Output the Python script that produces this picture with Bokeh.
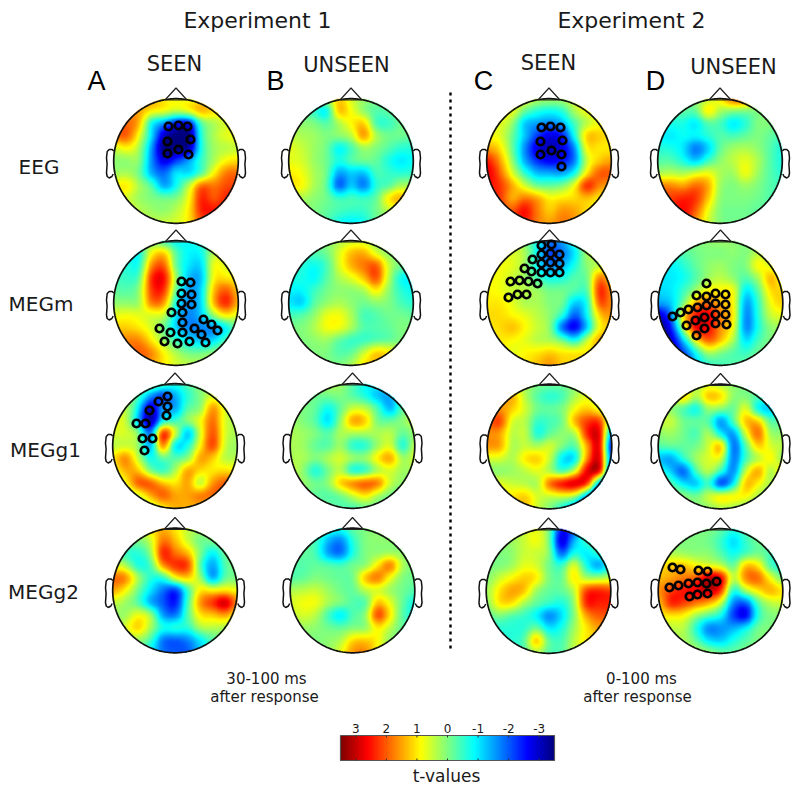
import numpy as np
from bokeh.plotting import figure
from bokeh.models import Range1d, LinearColorMapper
from bokeh.core.properties import value
from bokeh.embed import file_html
from bokeh.resources import INLINE

# t-values on an 11 x 11 grid over each head (top row first)
EEG_A = [
[1.5,1.5,1.5,1.5,1,.8,.8,1,1,1,1],
[1.6,1.6,1.5,1,.8,.5,.8,1.4,1.1,.9,.8],
[1.8,1.9,1.4,-.8,-1.6,-2.5,-2.6,-.3,.3,.6,.7],
[1.8,2.0,.8,-1,-3,-3.5,-3.5,-.6,.3,.7,.8],
[.5,.9,.3,-1.5,-3.5,-3.5,-3.2,-.7,.2,.4,.5],
[.1,.1,.1,-1.6,-2.8,-2.2,-1.5,-.5,.3,.9,1.1],
[.2,.3,-.1,-1.4,-1.9,-1.0,-1.1,-.3,.9,1.8,1.9],
[.9,1,.3,-.3,-1.5,-.8,.4,1.9,1.8,2.1,2.2],
[.8,.6,.2,0,-.1,0,.8,2.4,2.0,2.4,2.4],
[.6,.6,.4,.2,.1,.4,1.0,2.4,2.5,2.3,2],
[.4,.4,.4,.4,.5,.6,1,2,2,2,2]]
EEG_B = [
[0,0,.1,.3,1.2,.6,.2,0,-.1,0,0],
[0,-.2,-.5,-.9,1.3,.8,.1,-.3,-.2,0,0],
[.2,.1,0,-.3,.3,.9,1.2,-.4,-.5,-.1,-.1],
[.4,.3,.2,0,.1,.4,1.6,.3,-.1,-.1,-.2],
[.7,.5,.2,-.1,-.9,-.4,.2,0,-.3,-.6,-.6],
[.7,.6,.2,-.1,-.7,-.3,-.1,-.2,-.7,-1,-.8],
[1,.8,.3,-.1,-1.5,-1.2,-1.3,-.4,-.5,-.6,-.5],
[1,.9,.3,-.2,-2,-1.2,-1.8,-.6,-.3,.3,.2],
[.4,.3,.1,-.1,-.5,-.4,-.5,-.2,1.0,1.4,.5],
[.2,.1,0,-.2,-.4,-.5,-.5,-.1,.4,.6,.3],
[0,0,0,-.3,-.8,-1,-.8,-.2,0,0,0]]
EEG_C = [
[1,1,1,.8,.4,.3,.3,.6,1,1,1],
[.9,.9,.8,-.1,-.6,-.8,-.6,.3,.8,.9,.9],
[.7,.7,.2,-1.2,-1.5,-1.7,-1.4,-.4,.4,.8,.8],
[.8,.7,-.1,-1.2,-2.2,-2.8,-2.5,-.8,1.2,1.2,1],
[1.5,1.1,-.1,-1.6,-2.8,-3.1,-2.8,-1.7,.9,1,1],
[2.5,1.6,.2,-1.4,-2.3,-2.7,-2.5,-1.8,.5,1.2,1.5],
[2.8,2,.7,-.5,-1.3,-1.4,-1.5,-.8,1.0,2.0,2.0],
[2.5,2.3,1.5,.6,-.1,-.2,0,.8,2.4,1.7,1.5],
[2.2,2.3,1.4,1.8,1.5,.9,1,1.1,1.3,1,1],
[2,2.2,2,2.6,1.8,1.2,1.6,1.5,1.1,.9,.9],
[2,2,2.1,2.4,1.8,1.5,1.8,1.6,1,1,1]]
EEG_D = [
[0,0,0,.1,.4,1,2,2,.5,0,0],
[-.1,-.2,-.2,-.2,1,.3,.1,0,0,0,0],
[-.6,-.7,-.7,-1,-.3,-.4,-1,-.6,0,0,-.2],
[-.9,-1,-.8,-.9,-.6,-.3,-.4,-.2,0,-.2,-.4],
[-.6,-.7,-1,-1.8,-1.2,-.2,.2,.3,.1,-.3,-.7],
[-.3,-.3,-.7,-1.2,-.5,.1,.4,.7,.3,-.3,-.7],
[.3,.4,.3,.6,.8,.3,.2,.8,.2,-.3,-.6],
[1.7,1.7,1.5,1.9,1.5,.2,0,.2,0,-.3,-.4],
[2,2.2,2.4,2.3,1.3,.1,0,0,-.1,-.3,-.3],
[2,2.3,2.6,2.0,.8,0,-.1,-.1,-.2,-.2,-.2],
[2,2.3,2.5,1.6,.6,0,-.1,-.1,-.1,-.1,-.1]]
MEGM_A = [
[.3,.3,.3,0,-.5,-.9,-.8,-.6,0,.3,.3],
[-.5,-.5,-.8,.8,1.2,-.3,-.9,-.8,.4,.5,.5],
[-.5,-.6,-.7,1.6,2,-.2,-1,-1.1,.8,.6,.5],
[-.4,-.5,-.3,2.3,2.6,.2,-1.3,-1.3,.9,1.0,.8],
[-.2,-.3,.1,2.2,2.3,-.2,-1.5,-1.1,1.3,2.0,1.2],
[.1,.1,.2,1.8,1.6,-.8,-1.6,-1.1,1.4,2.4,1.3],
[.7,.8,.7,.6,.5,-1.1,-1.7,-1.2,.2,1,.6],
[1.2,1.2,1,.6,-.1,-1.2,-1.7,-1.7,-1.6,-.9,0],
[1.5,1.7,1.7,1,.2,-.5,-1.0,-1.3,-1.1,-.3,.3],
[1.5,1.7,2.0,1.7,.9,.3,-.1,-.1,.1,.4,.6],
[1.5,1.7,1.9,1.5,1,.6,.4,.3,.5,.5,.5]]
MEGM_B = [
[0,0,0,.1,.3,.5,.5,.2,.1,0,0],
[-.3,-.3,-.3,-.1,.6,1.3,1.4,.6,.1,0,0],
[-.5,-.6,-.8,-.4,.6,1.4,1.8,2.0,.5,-.1,-.2],
[-.7,-.7,-.9,-.3,.3,.7,1.3,2.1,.4,-.8,-.9],
[-.9,-.9,-.5,-.1,.1,.1,.3,1,.1,-.6,-.8],
[-1,-1.2,-.3,.1,.3,.1,-.1,.1,0,-.4,-.6],
[-.4,-.3,.1,.7,.8,.3,-.4,-.3,-.1,-.1,-.2],
[0,0,.3,.8,.8,.3,-.3,-.3,-.2,0,0],
[0,0,.1,.2,-.2,-.5,-.5,-.3,-.2,0,0],
[0,0,0,0,-.3,-.2,.5,1.2,1.0,.4,.3],
[0,0,0,0,0,.3,1,1.3,1,.5,.3]]
MEGM_C = [
[.5,.5,.5,0,-.8,-1.7,-1.5,-.5,.5,.5,.5],
[.6,.6,.6,.3,-.9,-2.2,-1.8,-1,.3,.5,.5],
[.8,.8,.7,.2,-.9,-1.7,-1.4,-.7,.1,.4,.7],
[.8,.8,.5,.2,-.4,-.8,-.7,-.3,-.1,1.8,1],
[.9,.8,.5,.4,.2,-.1,-.1,-.3,-.3,2.4,1.5],
[1,1,.7,.3,.3,0,-.1,-1.2,-.7,2.1,1.6],
[1.1,1.1,.9,.7,.4,.1,-.6,-2.0,-.8,1.2,1.6],
[1,1.1,1.3,.9,.5,.1,-1.9,-2.7,-1.2,.9,1.1],
[1,1,.9,.7,.4,.3,-.1,-.8,.5,1.5,1],
[1,1,.7,.9,1,1.2,1,1,1,1,1],
[1,1,1,1,1.3,1.6,1.2,1,1,1,1]]
MEGM_D = [
[0,0,0,0,.1,.2,.1,0,.2,.3,.3],
[-.5,-.5,-.3,-.1,0,0,.1,0,.4,.3,.3],
[-.9,-.9,-.6,-.2,.1,.2,0,0,.9,.6,.4],
[-1,-1,-.8,-.3,.2,.4,.1,-.3,.3,1.4,.6],
[-1.1,-1,-.5,.2,.9,.9,.8,-1.0,-.2,1.1,1.1],
[-1.5,-1.2,-.1,1.4,1.8,1.3,.9,-1.5,-.5,.8,1.2],
[-3,-1.8,1,2.5,2.8,1.7,1.0,-1.7,-.6,.5,.7],
[-3.5,-2.5,.4,2.7,2.6,1.6,.8,-1.7,-.7,.1,.2],
[-3.5,-3,-1.2,.9,2,1.3,.3,-1.1,-.4,0,0],
[-3,-3,-2.2,-.8,.3,0,-.3,-.5,-.1,0,0],
[-2,-2.5,-2.5,-1.2,-.6,-.4,-.3,-.2,0,0,0]]
G1_A = [
[0,0,0,0,-.2,-.7,-.3,.1,.1,.1,.1],
[0,.1,-.3,-1.5,-2.2,-1.4,-.6,0,.6,.2,.2],
[.3,.4,-.9,-3,-1.5,-1.5,-.3,.1,1.6,.6,.2],
[.7,.5,-1.2,-3.3,-.9,-.5,.1,.8,1.9,.6,.3],
[.6,.6,.1,-1.9,2.4,.6,-1.3,.6,2.1,.6,.3],
[.4,.5,.2,-1.5,1.8,-1,-.7,.9,2.2,.5,.2],
[1,1.7,.5,-.8,-.2,-.3,.1,1.5,1.2,.4,.4],
[.7,1.4,1.3,0,-.5,.3,1.5,1.1,1,1.1,.9],
[.5,.8,2.0,2,1.3,1.0,1.5,.4,1.6,2,2],
[.4,.3,.5,1.4,2,1.5,1.5,1.8,1.9,1.8,1.5],
[0,0,0,.3,.9,1.4,1.4,1.3,.6,.3,.2]]
G1_B = [
[.2,.2,.2,.3,.2,-.3,-.8,-.9,-.7,.2,.2],
[.2,0,-.1,-.1,0,-.3,-.7,-1.3,-1.4,-.2,0],
[.2,0,-.2,-.8,-.2,.5,.4,-.4,-1.4,-.2,.2],
[.2,0,-.3,-1.1,.1,1.5,1.2,-.1,-.2,.1,.5],
[.3,.2,0,-.3,.3,.3,.3,.3,.4,-.2,.2],
[.3,.2,-.2,-.3,.2,-.6,-.6,.2,.6,-.7,.5],
[.3,.3,0,.3,.6,.2,.2,1.0,1.5,.2,.6],
[.5,.1,-.7,-.1,.4,-.7,-.5,.3,.6,.2,.3],
[0,.2,-.1,.1,1.2,1.7,2,1.8,.5,.1,0],
[0,-.1,-.2,-.3,-.1,.5,1.0,.3,-.1,-.1,0],
[0,0,0,-.1,-.3,-.4,-.2,-.1,0,0,0]]
G1_C = [
[.5,.5,.5,.3,0,-.1,-.1,.1,.5,.5,.5],
[1.2,1.3,1.4,.4,-.3,-.6,-.4,.3,.7,.3,.3],
[1.6,1.6,1.2,.6,-.1,-.2,0,.8,1.2,.7,.1],
[1.9,2.2,.6,.4,-.5,-.4,-.1,1.4,2.2,2.2,-.2],
[1.6,1.5,.4,.5,-.7,-.2,.1,.3,2.4,2.7,-1.8],
[1.6,1.5,.3,.5,.3,.6,0,-.3,1.5,2.7,-3],
[.6,.6,.3,1.0,1.2,.5,-1,-1,1.7,2.8,-2.4],
[.1,.1,.2,.4,.7,.3,-.4,.6,2.8,2.6,-2.8],
[.7,.7,.5,.4,.3,1.9,2.6,2.9,2.2,-1.7,-3],
[.9,.9,1,1.2,.6,.5,.6,.3,-1.6,-3,-3],
[.8,.8,1,1.3,.5,0,-.8,-1.7,-3,-3,-3]]
G1_D = [
[0,0,.1,.3,.5,.3,.1,0,-.1,-.2,0],
[.2,.2,1.2,.3,1.3,1.1,.1,0,-.3,-.3,0],
[.3,.1,-.3,-.8,.2,.1,-.2,.7,-.9,-1.2,-.2],
[.4,.5,-.1,-.2,-.3,-1.6,-.3,1.3,1.2,-.3,-.1],
[.1,.2,-.1,-.4,.3,-.9,-1.6,.6,1.9,.2,.2],
[-.3,-.2,-.2,-.1,.5,1.3,-1.9,-.3,1.2,.6,.4],
[-1.3,-1.5,-.6,.2,.6,.6,-1.8,-.4,.4,.9,.1],
[-.6,-1.2,-2,-.4,.4,-.5,-1.7,.5,1.5,.3,1.2],
[0,-.3,-1,-1.3,-.5,-2.2,-1.0,1.3,.9,.3,.5],
[0,0,.1,-.1,.5,.9,.9,.9,.3,0,0],
[0,0,0,0,.1,.3,.2,0,0,0,0]]
G2_A = [
[.5,.5,.5,1,1.4,1,.5,.3,.2,0,0],
[.5,.3,0,.5,1.8,1.3,.5,-.1,0,.1,.1],
[0,-.5,-.6,.1,2.4,1.8,1.3,0,-.9,-.1,.1],
[.7,.3,-.7,-.4,1.6,2.3,2.2,-.3,-1.5,-.3,0],
[1.9,1.7,.3,-.6,-.6,.8,1.2,.2,-1.5,-.2,-.1],
[1.5,.9,-.1,-1,-1.8,-2.3,-.5,1.0,.9,1,.8],
[.5,.2,-.3,-1.4,-2,-2.5,-.4,1.6,2.3,3,1.6],
[.2,.2,.8,.3,-1.5,-1.8,-.3,1,1.2,1.5,.8],
[.1,.6,1.2,.3,-.7,-.6,-.6,.3,.4,.3,.1],
[0,.1,.2,-.4,-1.8,-2,-1.7,-1.0,-.3,-.1,0],
[0,0,-.1,-.9,-1.8,-2.0,-2,-1.2,-.5,-.1,0]]
G2_B = [
[0,0,-.2,-.5,-.7,-.2,0,.1,.1,0,0],
[0,-.2,-.4,-1.3,-1.7,-.6,0,.1,.1,0,0],
[0,-.2,-.4,-1.5,-1.9,-.7,0,.1,.2,.1,0],
[-.3,-.3,-.2,-.3,-.4,-.1,.1,1.0,1.8,.3,0],
[-.3,-.2,0,-.1,-.2,-.1,1.3,1.8,.8,0,-.1],
[.3,.4,.5,.2,-.1,-.2,.4,.6,.2,-.1,-.3],
[.6,.8,.8,.3,0,-.3,-.3,1.3,.7,-.2,-.8],
[.4,.6,.4,-.4,-1,-.3,.1,2.2,1,-.3,-.7],
[.1,.2,.1,-.1,-.2,0,.1,1.0,.4,-.2,-.2],
[0,0,0,.1,.3,1.1,1.2,.9,.1,0,0],
[0,0,0,.1,.7,1.6,1.7,.9,.2,0,0]]
G2_C = [
[.3,.3,.3,.5,.7,0,-2.5,-2,-.3,0,0],
[.3,.2,.2,.5,.8,0,-2.9,-1.4,-.5,0,0],
[.1,0,.1,.5,.5,.1,-2,-.7,-1,-.5,-.2],
[0,0,.2,.7,.6,-.1,-.5,.7,-.7,-1.5,-.5],
[0,.5,.9,1.2,1,0,-.2,1.0,.3,.3,.5],
[.2,1.0,1.5,1.3,.2,-.2,-.2,.4,2.2,2.4,2.2],
[0,1,1.1,.3,-.2,-.5,-.7,.1,2.4,2.4,2.4],
[-.3,0,-.3,-.5,-.9,-1.7,-1.1,0,1.5,2,2],
[-.6,-.6,-.6,-.6,-.1,-1.0,-.7,.2,1,1.5,1.3],
[-.5,-.5,-.6,-.3,1.3,-.2,-.4,.4,1,1,1],
[-.5,-.5,-.5,-.4,.3,-.3,-.3,.4,.6,.6,.6]]
G2_D = [
[0,0,0,0,0,-.2,-.6,-.3,0,0,0],
[0,0,0,0,-.1,-.5,-1.1,-.5,-.1,0,0],
[.3,.3,.2,.1,.1,-.3,-.8,-.4,-.1,-.4,-.5],
[1,1.2,1.3,.9,.7,.5,-.2,1.3,1.0,-.4,-.6],
[1.3,1.5,1.8,2.0,3.1,2.8,.4,1.7,1.9,.8,-.1],
[1.6,2.2,2.5,2.7,3,2.3,-.7,.3,1.0,1.4,1],
[1.2,2.4,2.2,1.8,1.4,.5,-1.7,-2,-.3,.4,.5],
[.9,1,.9,.2,-.3,-.8,-2.2,-2.7,-.6,0,0],
[.3,.4,.4,-.6,-1.7,-1.6,-1.4,-.9,-.1,0,0],
[.1,.1,.3,-.2,-1,-1.2,-.7,-.3,0,0,0],
[0,0,.2,.4,.2,-.1,-.2,0,0,0,0]]

# significant sensors, in reference-picture pixels
S_EEG_A = [(168,126),(178,125),(187,126),(167,141),(190,139),(167,153),(178,149),(188,154)]
S_EEG_C = [(541,127),(550,126),(560,127),(540,141),(562,140),(540,154),(551,150),(561,154),(561,166)]
S_MEGM_A = [(181,281),(190,282),(181,293),(191,294),(181,303),(191,304),(171,312),(182,312),(182,322),
            (203,319),(211,324),(217,330),(159,328),(170,332),(182,332),(194,328),(201,334),(164,341),(177,343),(189,341),(205,342)]
S_MEGM_C = [(541,245),(551,244),(541,254),(550,253),(559,254),(532,259),(541,263),(550,262),(559,263),
            (524,268),(531,271),(541,272),(550,272),(559,272),(510,281),(519,280),(528,281),(537,283),(508,297),(517,294),(526,294)]
S_MEGM_D = [(706,283),(696,295),(706,296),(715,293),(725,294),(680,312),(688,309),(697,307),(706,305),(715,303),(725,304),
            (672,316),(686,325),(695,320),(704,317),(715,314),(725,314),(696,335),(704,328),(715,323),(726,324)]
S_G1_A = [(167,396),(158,401),(167,406),(149,410),(166,415),(145,423),(136,423),(142,438),(152,438),(144,450)]
S_G2_D = [(672,567),(680,569),(698,570),(707,571),(716,581),(706,583),(697,582),(688,583),(678,585),(669,587),(707,593),(697,594),(689,596)]

TICKS = [3, 2, 1, 0, -1, -2, -3]
TICK_TEXT = ["3", "2", "1", "0", "-1", "-2", "-3"]
VMAX = 3.5

def jet(t):
    r = np.clip(1.5 - np.abs(4 * t - 3), 0, 1)
    g = np.clip(1.5 - np.abs(4 * t - 2), 0, 1)
    b = np.clip(1.5 - np.abs(4 * t - 1), 0, 1)
    return r, g, b

PALETTE = []
for t in np.linspace(0, 1, 256):
    r, g, b = jet(t)
    PALETTE.append("#%02x%02x%02x" % (int(r * 255), int(g * 255), int(b * 255)))

mapper = LinearColorMapper(palette=PALETTE, low=-VMAX, high=VMAX, nan_color="rgba(0,0,0,0)")

def upsample(grid, n=260):
    """Catmull-Rom resampling of a coarse grid of readings, axis by axis."""
    a = np.asarray(grid, float)
    def along(arr):
        m = arr.shape[0]
        p = np.pad(arr, ((1, 1), (0, 0)), mode="edge")
        pos = np.linspace(0, m - 1, n)
        i = np.minimum(pos.astype(int), m - 2)
        f = (pos - i)[:, None]
        p0, p1, p2, p3 = p[i], p[i + 1], p[i + 2], p[i + 3]
        return 0.5 * (2 * p1 + (p2 - p0) * f + (2 * p0 - 5 * p1 + 4 * p2 - p3) * f ** 2 + (3 * p1 - p0 - 3 * p2 + p3) * f ** 3)
    return along(along(a).T).T

def soften(a, sigma=5.0):
    """Gentle blur of the resampled field, matching the soft look of the picture."""
    r = int(3 * sigma)
    k = np.exp(-0.5 * (np.arange(-r, r + 1) / sigma) ** 2)
    k /= k.sum()
    b = np.pad(a, r, mode="edge")
    b = np.apply_along_axis(lambda c: np.convolve(c, k, mode="same"), 0, b)
    b = np.apply_along_axis(lambda c: np.convolve(c, k, mode="same"), 1, b)
    return b[r:-r, r:-r]

W, H = 800, 792
p = figure(width=W, height=H, x_range=Range1d(0, W), y_range=Range1d(0, H),
           toolbar_location=None, output_backend="svg", tools="", min_border=0)
p.xaxis.visible = False
p.yaxis.visible = False
p.grid.visible = False
p.outline_line_color = None

def Y(v):
    return H - np.asarray(v, float)

R = 62.3
HEADS = [
    (EEG_A, 175.5, 160.5, S_EEG_A), (EEG_B, 350.5, 160.5, None), (EEG_C, 548.5, 160.5, S_EEG_C), (EEG_D, 719.5, 160.5, None),
    (MEGM_A, 175.5, 302.5, S_MEGM_A), (MEGM_B, 350.5, 302.5, None), (MEGM_C, 549, 302.5, S_MEGM_C), (MEGM_D, 720, 302.5, S_MEGM_D),
    (G1_A, 174.5, 445.5, S_G1_A), (G1_B, 352, 445.5, None), (G1_C, 549, 446, None), (G1_D, 720, 446, None),
    (G2_A, 174.5, 590, None), (G2_B, 352, 590, None), (G2_C, 548, 590.5, None), (G2_D, 720, 590.5, S_G2_D),
]
EAR_X = [0, 1.5, 4.5, 6.5, 7.2, 6.6, 7.2, 6.5, 4.5, 1.8, 0.5]
EAR_Y = [-10, -11.5, -11.5, -9.5, -3, 3, 12, 15.5, 17, 15.5, 13]

for grid, cx, cy, sensors in HEADS:
    img = soften(upsample(grid))[::-1]
    n = img.shape[0]
    u = np.linspace(-1, 1, n)
    xx, yy = np.meshgrid(u, u)
    img = np.where(xx ** 2 + yy ** 2 <= 1.02, img, np.nan)
    p.image(image=[img], x=cx - R, y=float(Y(cy + R)), dw=2 * R, dh=2 * R, color_mapper=mapper)
    # head, nose and ears
    th = np.linspace(0, 2 * np.pi, 241)
    p.line(cx + R * np.cos(th), Y(cy + R * np.sin(th)), line_color="#111111", line_width=1.7)
    p.line(cx + np.array([-11, 0, 11, -11]), Y(cy + np.array([-61, -73, -61, -61])), line_color="#222222", line_width=1.2)
    for side in (-1, 1):
        p.line(cx + side * (R + np.array(EAR_X)), Y(cy + np.array(EAR_Y)), line_color="#111111", line_width=1.5)
    if sensors:
        sx, sy = zip(*sensors)
        p.scatter(list(sx), Y(sy), marker="circle", size=7.5, fill_color=None, line_color="black", line_width=2.7)

def label(x, y, s, size, font="DejaVu Sans", color="#1a1a1a"):
    # y is the baseline in the reference; this backend places the text's middle at the given point
    p.text([x], [float(Y(y - 0.36 * size))], text=[s], text_font=value(font), text_font_size=f"{size}px",
           text_align="center", text_baseline="middle", text_color=color)

label(257, 28, "Experiment 1", 22)
label(631, 28, "Experiment 2", 22)
label(174, 71, "SEEN", 21)
label(346, 72, "UNSEEN", 21)
label(548, 70, "SEEN", 21)
label(733, 74, "UNSEEN", 21)
for x, s in [(96, "A"), (275, "B"), (483, "C"), (655, "D")]:
    label(x, 90, s, 27, font="Liberation Sans", color="black")
label(38.5, 174, "EEG", 20)
label(40.5, 311, "MEGm", 20)
label(45, 457, "MEGg1", 20)
label(43, 599, "MEGg2", 20)
label(266, 684, "30-100 ms", 15)
label(264, 702, "after response", 15)
label(641, 684, "0-100 ms", 15)
label(637, 702, "after response", 15)

# separator
p.line([450, 450], Y([92, 648]), line_color="black", line_width=2.4, line_dash="3 4")

# colour bar
BAR_L, BAR_R, BAR_T, BAR_B = 340, 554, 735, 760
ramp = np.linspace(VMAX, -VMAX, 256)[None, :]
p.image(image=[ramp], x=BAR_L, y=float(Y(BAR_B)), dw=BAR_R - BAR_L, dh=BAR_B - BAR_T, color_mapper=mapper)
p.line([BAR_L, BAR_R, BAR_R, BAR_L, BAR_L], Y([BAR_T, BAR_T, BAR_B, BAR_B, BAR_T]), line_color="#555555", line_width=1.2)
bar_x = lambda v: BAR_L + (VMAX - v) / (2 * VMAX) * (BAR_R - BAR_L)
for v, s in zip(TICKS, TICK_TEXT):
    x = bar_x(v)
    p.line([x, x], Y([BAR_T, BAR_T + 2]), line_color="#333333", line_width=1)
    p.line([x, x], Y([BAR_B - 2, BAR_B]), line_color="#333333", line_width=1)
    label(x, 732, s, 12)
label(446, 782, "t-values", 17)

open("out.html", "w").write(file_html(p, INLINE))
